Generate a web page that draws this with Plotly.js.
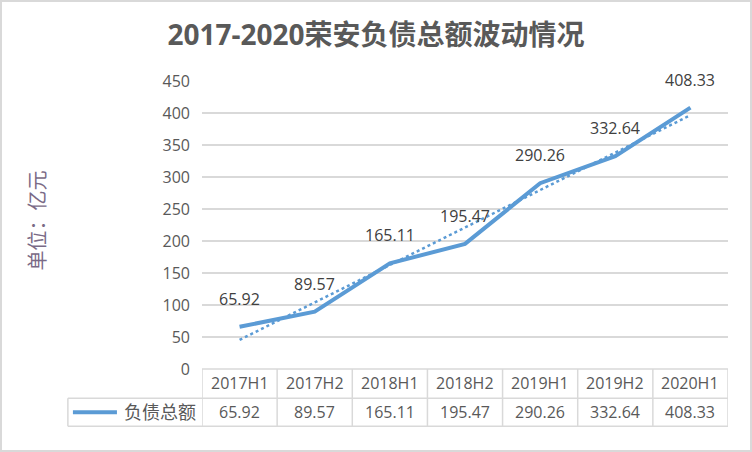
<!DOCTYPE html>
<html>
<head>
<meta charset="utf-8">
<script src="https://cdn.plot.ly/plotly-3.0.1.min.js"></script>
<style>
  body { margin: 0; background: #fff; }
  #chart { width: 748px; height: 448px; border: 2px solid #d9d9d9; }
</style>
</head>
<body>
<div id="chart"></div>
<script>
// 数据
const categories = ['2017H1', '2017H2', '2018H1', '2018H2', '2019H1', '2019H2', '2020H1'];
const liabilities = [65.92, 89.57, 165.11, 195.47, 290.26, 332.64, 408.33];
// 趋势线
const trend = [45.5, 104.0, 162.5, 221.0, 279.6, 338.1, 396.6];
const seriesName = '负债总额';

const blue = '#5b9bd5';
const gridColor = '#d9d9d9';
const font = 'Open Sans, Noto Sans CJK SC, sans-serif';

// 表格行位置 (paper)
const rowTop = 0;
const rowMid = -0.1017;
const rowBottom = -0.199;
const headerY = -0.0497;
const valueY = -0.150;
const legendLeft = -0.255;

const data = [
    {
        type: 'scatter',
        mode: 'lines',
        x: categories,
        y: trend,
        line: { color: blue, width: 2.5, dash: 'dot' },
        hoverinfo: 'skip',
        showlegend: false
    },
    {
        type: 'scatter',
        mode: 'lines',
        x: categories,
        y: liabilities,
        name: seriesName,
        line: { color: blue, width: 4 },
        showlegend: false
    }
];

const annotations = [];
const shapes = [];

// 数据标签
categories.forEach((c, i) => {
    annotations.push({
        x: c, y: liabilities[i], xref: 'x', yref: 'y',
        text: liabilities[i].toFixed(2),
        showarrow: false, yshift: 28,
        font: { family: font, size: 16, color: '#404040' }
    });
    // 表头
    annotations.push({
        x: c, y: headerY, xref: 'x', yref: 'paper',
        text: c, showarrow: false, xanchor: 'center', yanchor: 'middle',
        font: { family: font, size: 16, color: '#595959' }
    });
    // 数值行
    annotations.push({
        x: c, y: valueY, xref: 'x', yref: 'paper',
        text: liabilities[i].toFixed(2), showarrow: false, xanchor: 'center', yanchor: 'middle',
        font: { family: font, size: 16, color: '#595959' }
    });
});

// 表格竖线
for (let i = 0; i <= categories.length; i++) {
    shapes.push({
        type: 'line', xref: 'x', yref: 'paper',
        x0: i - 0.5, x1: i - 0.5, y0: rowTop, y1: rowBottom,
        line: { color: gridColor, width: 1.5 }
    });
}
// 表格横线
shapes.push({ type: 'line', xref: 'x', yref: 'paper', x0: -0.5, x1: categories.length - 0.5, y0: rowTop, y1: rowTop, line: { color: gridColor, width: 1.5 } });
shapes.push({ type: 'line', xref: 'paper', yref: 'paper', x0: legendLeft, x1: 1, y0: rowMid, y1: rowMid, line: { color: gridColor, width: 1.5 } });
shapes.push({ type: 'line', xref: 'paper', yref: 'paper', x0: legendLeft, x1: 1, y0: rowBottom, y1: rowBottom, line: { color: gridColor, width: 1.5 } });
shapes.push({ type: 'line', xref: 'paper', yref: 'paper', x0: legendLeft, x1: legendLeft, y0: rowMid, y1: rowBottom, line: { color: gridColor, width: 1.5 } });

// 图例
shapes.push({ type: 'line', xref: 'paper', yref: 'paper', x0: -0.2454, x1: -0.1617, y0: valueY, y1: valueY, line: { color: blue, width: 4 } });
annotations.push({
    x: -0.079, y: valueY, xref: 'paper', yref: 'paper',
    text: seriesName, showarrow: false, xanchor: 'center', yanchor: 'middle',
    font: { family: font, size: 18, color: '#595959' }
});

// 纵轴标题
annotations.push({
    x: -0.312, y: 0.515, xref: 'paper', yref: 'paper',
    text: '单位：亿元', textangle: -90, showarrow: false,
    xanchor: 'center', yanchor: 'middle',
    font: { family: font, size: 20, color: '#7a6a86' }
});

const layout = {
    width: 748,
    height: 448,
    margin: { l: 200, r: 22.4, t: 78.7, b: 81.3 },
    paper_bgcolor: '#fff',
    plot_bgcolor: '#fff',
    title: {
        text: '<b>2017-2020荣安负债总额波动情况</b>',
        xref: 'container', x: 0.5, xanchor: 'center',
        yref: 'container', y: 0.926, yanchor: 'middle',
        font: { family: font, size: 28, color: '#595959' }
    },
    xaxis: {
        type: 'category',
        range: [-0.5, categories.length - 0.5],
        showticklabels: false,
        showgrid: false,
        zeroline: false,
        showline: false,
        ticks: ''
    },
    yaxis: {
        range: [0, 450],
        dtick: 50,
        showgrid: true,
        gridcolor: gridColor,
        gridwidth: 1.5,
        zeroline: false,
        showline: false,
        ticks: '',
        ticklabelstandoff: 11,
        tickfont: { family: font, size: 16, color: '#595959' }
    },
    annotations: annotations,
    shapes: shapes,
    showlegend: false
};

Plotly.newPlot('chart', data, layout, { displayModeBar: false, staticPlot: true });
</script>
</body>
</html>
